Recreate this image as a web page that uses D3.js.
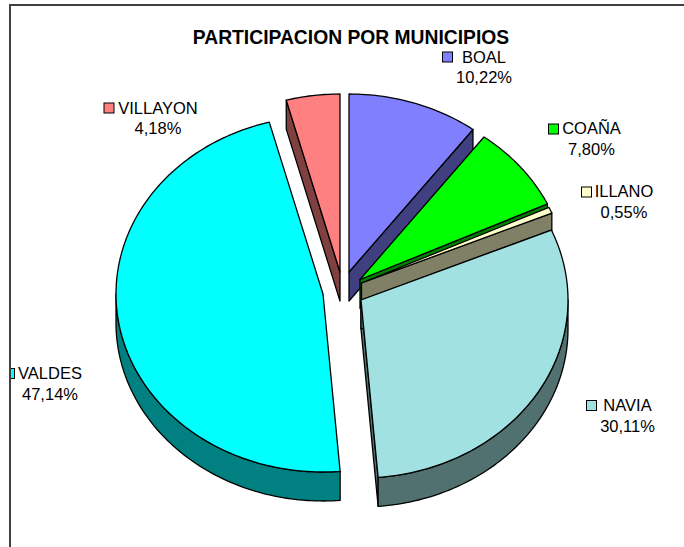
<!DOCTYPE html>
<html><head><meta charset="utf-8">
<script src="https://cdn.jsdelivr.net/npm/d3@7"></script>
<style>html,body{margin:0;padding:0;background:#fff}svg{display:block}text{font-family:"Liberation Sans",Arial,sans-serif}</style>
</head><body><svg id="c" width="684" height="547"></svg>
<script>
const categories = ["BOAL","COAÑA","ILLANO","NAVIA","VALDES","VILLAYON"];
const shares = [10.22,7.80,0.55,30.11,47.14,4.18];
const percentLabels = ["10,22%","7,80%","0,55%","30,11%","47,14%","4,18%"];
const colors = ["#8080FF","#00FF00","#FFFFCC","#A1E1E1","#00FFFF","#FF8080"];
const chartTitle = "PARTICIPACION POR MUNICIPIOS";

// layout (separate from data)
const apexX = [349,360,361.5,361,323,340];
const apexY = [272,279.5,283,300,294,272];
const swatchX = [442,548,581,586,4,103.5];
const swatchY = [52,124,187,400.5,368.5,103];
const labelX = [484,591.5,624,627.5,50,158];
const labelY = [62.5,134,197,411,379,113.5];
const RX = 207, RY = 178, DEPTH = 29;
const drawOrder = [5,0,1,2,3,4];

const svg = d3.select("#c");
const pie = d3.pie().sort(null).value(d=>d).startAngle(0).endAngle(2*Math.PI);
const arcs = pie(shares);
const dark = c => { const r=d3.rgb(c); return d3.rgb(r.r/2,r.g/2,r.b/2).formatHex(); };

function pt(i,a,dz=0){ return [apexX[i]+RX*Math.sin(a), apexY[i]-RY*Math.cos(a)+dz]; }
function arcPts(i,a0,a1,dz=0){
  const n=Math.max(2,Math.ceil((a1-a0)/0.02)), out=[];
  for(let k=0;k<=n;k++) out.push(pt(i,a0+(a1-a0)*k/n,dz));
  return out;
}
const line=d3.line();
function draw(path,fill){
  svg.append("path").attr("d",path).attr("fill",fill)
    .attr("stroke","#000").attr("stroke-width",1.3).attr("stroke-linejoin","round");
}
drawOrder.forEach(i=>{
  const {startAngle:a0,endAngle:a1}=arcs[i], c=colors[i], d=dark(c);
  const A=[apexX[i],apexY[i]];
  const wall=a=>[A,pt(i,a),pt(i,a,DEPTH),[A[0],A[1]+DEPTH]];
  if(a1<Math.PI) draw(line(wall(a1))+"Z",d);
  if(i===3||i===5) draw(line(wall(a0))+"Z",d);
  const f0=Math.max(a0,Math.PI/2), f1=Math.min(a1,3*Math.PI/2);
  if(f0<f1) draw(line(arcPts(i,f0,f1).concat(arcPts(i,f0,f1,DEPTH).reverse()))+"Z",d);
  draw(line([A].concat(arcPts(i,a0,a1)))+"Z",c);
});

svg.append("text").attr("x",351).attr("y",43.5).attr("text-anchor","middle")
  .attr("font-size",19.3).attr("font-weight","bold").attr("fill","#000").text(chartTitle);

categories.forEach((name,i)=>{
  svg.append("rect").attr("x",swatchX[i]+.5).attr("y",swatchY[i]).attr("width",10).attr("height",10)
    .attr("fill",colors[i]).attr("stroke","#000").attr("stroke-width",1);
  svg.append("text").attr("x",labelX[i]).attr("y",labelY[i]).attr("text-anchor","middle")
    .attr("font-size",16.5).attr("fill","#000").text(name);
  svg.append("text").attr("x",labelX[i]).attr("y",labelY[i]+20.5).attr("text-anchor","middle")
    .attr("font-size",16.5).attr("fill","#000").text(percentLabels[i]);
});
svg.append("rect").attr("x",0).attr("y",0).attr("width",10).attr("height",547).attr("fill","#fff");
svg.append("path").attr("d","M10,547V5H684").attr("fill","none").attr("stroke","#404040").attr("stroke-width",2);
</script></body></html>
